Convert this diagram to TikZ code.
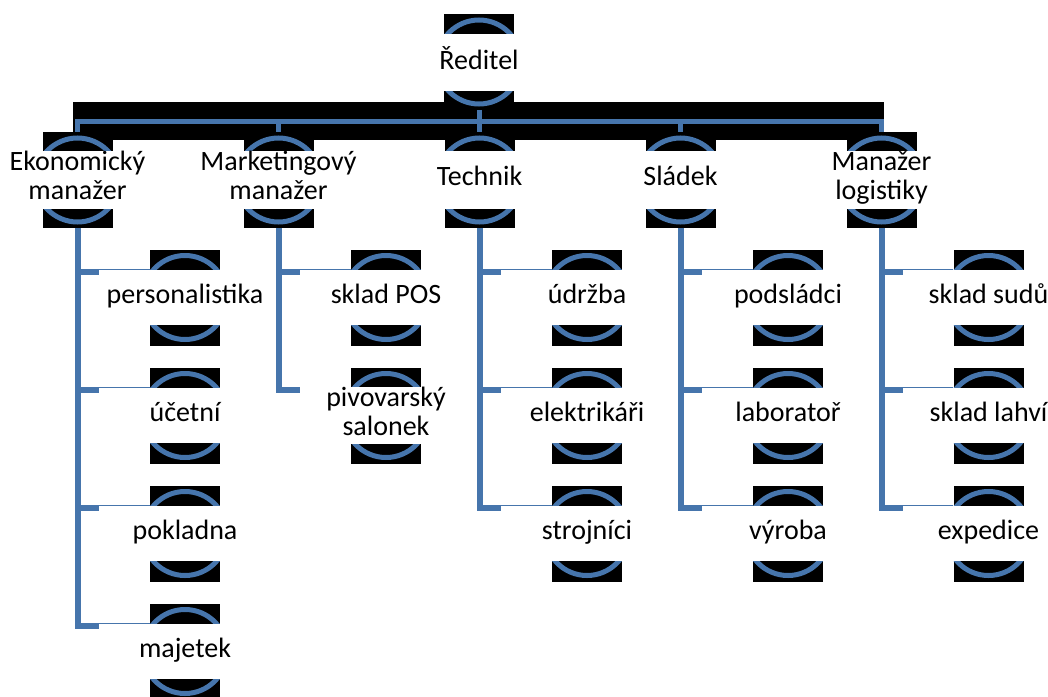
\documentclass[tikz,border=0pt]{standalone}
\usepackage{fontspec}
\setmainfont{Carlito}
\usetikzlibrary{calc}
\definecolor{ringblue}{RGB}{70,117,172}
\pgfdeclarelayer{band}
\pgfdeclarelayer{links}
\pgfsetlayers{band,links,main}

\begin{document}
\begin{tikzpicture}[x=1pt,y=-1pt,
  orgbox/.style={rectangle, fill=black, inner sep=0pt,
    minimum width=70pt, minimum height=96pt,
    path picture={\draw[ringblue, line width=5pt]
      (path picture bounding box.center) circle[radius=42pt];}},
  txtbase/.style={fill=white, inner sep=0pt, minimum width=172pt,
    font=\fontsize{28}{29}\selectfont, align=center,
    execute at begin node=\strut},
  txttop/.style={txtbase, minimum height=57pt},
  txtmid/.style={txtbase, minimum height=58pt},
  txtlow/.style={txtbase, minimum height=55pt},
  wire/.style={draw=ringblue, line width=5pt, line join=miter},
  twig/.style={draw=ringblue, line width=6pt, line join=miter}]

\useasboundingbox (0,0) rectangle (1048,696);

% --- boxes with their rings ---
\node[orgbox] (dir) at (479,62) {};

\node[orgbox] (ekon) at (77.5,180) {};
\node[orgbox] (mark) at (278.5,180) {};
\node[orgbox] (tech) at (479.5,180) {};
\node[orgbox] (slad) at (680.5,180) {};
\node[orgbox] (logi) at (881.5,180) {};

\node[orgbox] (pers) at (185,297.5) {};
\node[orgbox] (ucet) at (185,415.5) {};
\node[orgbox] (pokl) at (185,533.5) {};
\node[orgbox] (maje) at (185,651.5) {};

\node[orgbox] (spos) at (386,297.5) {};
\node[orgbox] (salo) at (386,415.5) {};

\node[orgbox] (udrz) at (587,297.5) {};
\node[orgbox] (elek) at (587,415.5) {};
\node[orgbox] (stro) at (587,533.5) {};

\node[orgbox] (pods) at (788,297.5) {};
\node[orgbox] (labo) at (788,415.5) {};
\node[orgbox] (vyro) at (788,533.5) {};

\node[orgbox] (sudy) at (988.5,297.5) {};
\node[orgbox] (lahv) at (988.5,415.5) {};
\node[orgbox] (expe) at (988.5,533.5) {};

% --- text labels on white plates ---
\node[txttop] (dir-t) at (dir.center) {Ředitel};

\node[txtmid] (ekon-t) at (ekon.center) {Ekonomický\\\strut manažer};
\node[txtmid] (mark-t) at (mark.center) {Marketingový\\\strut manažer};
\node[txtmid] (tech-t) at (tech.center) {Technik};
\node[txtmid] (slad-t) at (slad.center) {Sládek};
\node[txtmid] (logi-t) at (logi.center) {Manažer\\\strut logistiky};

\node[txtlow] (pers-t) at (pers.center) {personalistika};
\node[txtlow] (ucet-t) at (ucet.center) {účetní};
\node[txtlow] (pokl-t) at (pokl.center) {pokladna};
\node[txtlow] (maje-t) at (maje.center) {majetek};

\node[txtlow] (spos-t) at (spos.center) {sklad POS};
\node[txtlow] (salo-t) at (salo.center) {pivovarský\\\strut salonek};

\node[txtlow] (udrz-t) at (udrz.center) {údržba};
\node[txtlow] (elek-t) at (elek.center) {elektrikáři};
\node[txtlow] (stro-t) at (stro.center) {strojníci};

\node[txtlow] (pods-t) at (pods.center) {podsládci};
\node[txtlow] (labo-t) at (labo.center) {laboratoř};
\node[txtlow] (vyro-t) at (vyro.center) {výroba};

\node[txtlow] (sudy-t) at (sudy.center) {sklad sudů};
\node[txtlow] (lahv-t) at (lahv.center) {sklad lahví};
\node[txtlow] (expe-t) at (expe.center) {expedice};

% --- black band behind the top bus ---
\begin{pgfonlayer}{band}
  \fill[black] (73,102) rectangle (884,140);
\end{pgfonlayer}

% --- connectors ---
\begin{pgfonlayer}{links}
  \coordinate (bus) at (0,121);
  \draw[wire] (dir.south) -- (dir.south |- bus) -| (ekon.north);
  \draw[wire] (dir.south) -- (dir.south |- bus) -| (mark.north);
  \draw[wire] (dir.south) -- (dir.south |- bus) -| (tech.north);
  \draw[wire] (dir.south) -- (dir.south |- bus) -| (slad.north);
  \draw[wire] (dir.south) -- (dir.south |- bus) -| (logi.north);

  \foreach \p/\c in {ekon/pers, ekon/ucet, ekon/pokl, ekon/maje,
                     mark/spos, mark/salo,
                     tech/udrz, tech/elek, tech/stro,
                     slad/pods, slad/labo, slad/vyro,
                     logi/sudy, logi/lahv, logi/expe}
    \draw[twig] (\p.south) |- ($(\c.north west)+(0,22.5)$);
\end{pgfonlayer}
\end{tikzpicture}
\end{document}
